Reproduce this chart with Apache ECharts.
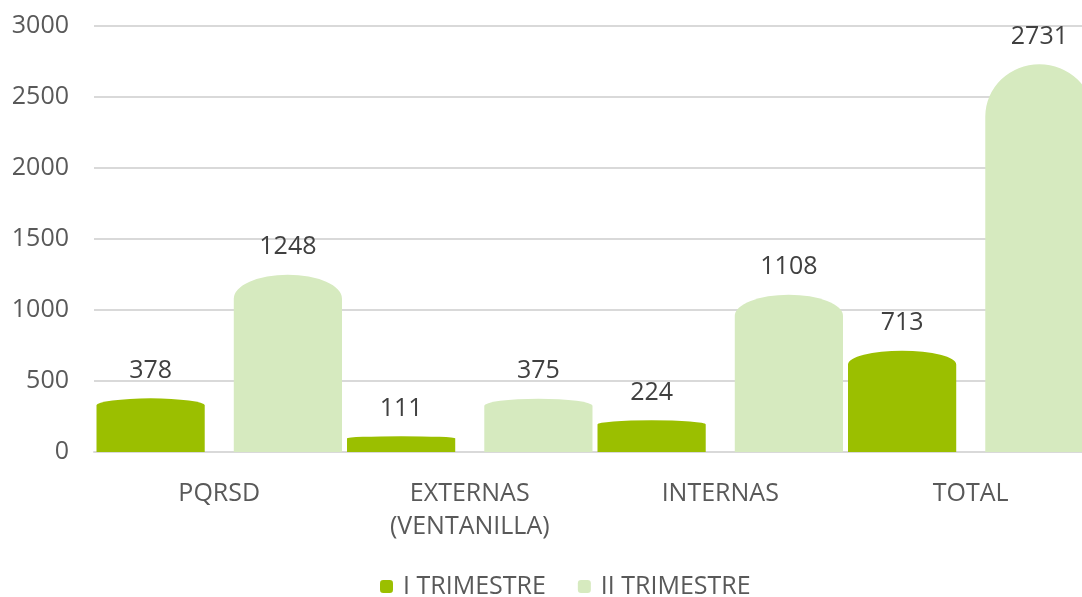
<!DOCTYPE html>
<html>
<head>
<meta charset="utf-8">
<script src="https://cdn.jsdelivr.net/npm/echarts@6/dist/echarts.min.js"></script>
<style>
  html, body { margin: 0; padding: 0; background: #fff; overflow: hidden; }
  #chart { width: 1096px; height: 597px; }
</style>
</head>
<body>
<div id="chart"></div>
<script>
var categories = ['PQRSD', 'EXTERNAS\n(VENTANILLA)', 'INTERNAS', 'TOTAL'];
var trimestre1 = [378, 111, 224, 713];
var trimestre2 = [1248, 375, 1108, 2731];
var seriesNames = ['I TRIMESTRE', 'II TRIMESTRE'];
var seriesColors = ['#9bbf00', '#d6eabf'];

var textColor = '#595959';
var fontFam = '"Open Sans", "Noto Sans", sans-serif';

// bar with a rounded (elliptical) top, like the excel shape
function makeRender(idx) {
    return function (params, api) {
        var x = api.value(0), v = api.value(1);
        var band = api.size([1, 0])[0];
        var barW = band * 0.432;
        var off = band * 0.274 * (idx === 0 ? -1 : 1);
        var top = api.coord([x, v]);
        var base = api.coord([x, 0]);
        var cx = top[0] + off;
        var h = base[1] - top[1];
        var cap = h * 0.135;
        var l = cx - barW / 2, r = cx + barW / 2;
        var path = 'M' + l + ' ' + base[1] +
            ' L' + l + ' ' + (top[1] + cap) +
            ' A' + (barW / 2) + ' ' + cap + ' 0 0 1 ' + r + ' ' + (top[1] + cap) +
            ' L' + r + ' ' + base[1] + ' Z';
        return {
            type: 'path',
            shape: { pathData: path },
            style: { fill: seriesColors[idx] },
            textContent: {
                style: {
                    text: String(v),
                    fill: '#404040',
                    font: '25px ' + fontFam
                }
            },
            textConfig: { position: 'top', distance: 15 }
        };
    };
}

var chart = echarts.init(document.getElementById('chart'));
var option = {
    animation: false,
    grid: { left: 94, right: 0, top: 26, bottom: 145 },
    legend: {
        top: 574,
        left: 380,
        padding: 0,
        itemWidth: 13,
        itemHeight: 13,
        itemGap: 32,
        icon: 'roundRect',
        textStyle: { color: textColor, fontSize: 25, fontFamily: fontFam, padding: [0, 0, 0, 5] },
        data: seriesNames
    },
    xAxis: {
        type: 'category',
        data: categories,
        axisLine: { lineStyle: { color: '#d9d9d9', width: 2 } },
        axisTick: { show: false },
        axisLabel: { color: textColor, fontSize: 25, fontFamily: fontFam, margin: 25, lineHeight: 33 }
    },
    yAxis: {
        type: 'value',
        min: 0,
        max: 3000,
        interval: 500,
        axisLine: { show: false },
        axisTick: { show: false },
        axisLabel: {
            color: textColor, fontSize: 25, fontFamily: fontFam, margin: 25,
            formatter: function (v) { return String(v); }
        },
        splitLine: { lineStyle: { color: '#d9d9d9', width: 2 } }
    },
    series: [
        {
            name: seriesNames[0],
            type: 'custom',
            itemStyle: { color: seriesColors[0] },
            renderItem: makeRender(0),
            data: trimestre1.map(function (v, i) { return [i, v]; })
        },
        {
            name: seriesNames[1],
            type: 'custom',
            itemStyle: { color: seriesColors[1] },
            renderItem: makeRender(1),
            data: trimestre2.map(function (v, i) { return [i, v]; })
        }
    ]
};
chart.setOption(option);
</script>
</body>
</html>
